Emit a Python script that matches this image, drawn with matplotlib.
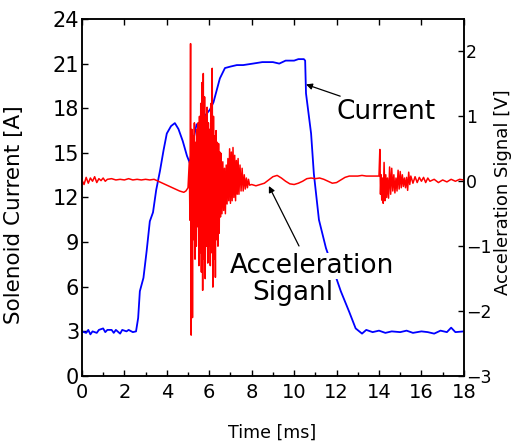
import matplotlib
matplotlib.use("Agg")
import matplotlib.pyplot as plt
from matplotlib.ticker import MultipleLocator

plt.rcParams['font.family'] = ['DejaVu Sans']

# ---- Data ----
t_current = [0.0, 0.2, 0.3, 0.4, 0.5, 0.7, 0.8, 1.0, 1.1, 1.2, 1.4, 1.5, 1.6, 1.8, 1.9,
             2.1, 2.2, 2.4, 2.55, 2.65, 2.73, 2.9, 3.05, 3.2, 3.35, 3.5, 3.68, 3.85, 4.0,
             4.2, 4.38, 4.55, 4.75, 4.95, 5.09, 5.2, 5.4, 5.6, 5.8, 6.03, 6.2, 6.35, 6.5,
             6.74, 7.0, 7.3, 7.6, 8.06, 8.5, 9.0, 9.3, 9.6, 10.0, 10.2, 10.46, 10.52, 10.56,
             10.8, 10.93, 11.17, 11.5, 12.2, 12.6, 12.9, 13.2, 13.4, 13.7, 14.0, 14.3, 14.6,
             15.0, 15.3, 15.6, 16.0, 16.3, 16.6, 16.9, 17.2, 17.4, 17.6, 18.0]
i_current = [3.0, 2.9, 3.1, 2.8, 3.0, 2.9, 3.1, 3.2, 2.95, 3.1, 3.1, 2.9, 3.1, 2.85, 3.1,
             3.0, 3.1, 2.95, 3.0, 3.9, 5.7, 6.6, 8.4, 10.4, 11.0, 12.5, 13.8, 15.2, 16.3,
             16.8, 17.0, 16.6, 15.8, 14.8, 14.3, 15.5, 16.9, 17.1, 17.5, 17.9, 18.4, 19.2, 20.0,
             20.7, 20.8, 20.9, 20.9, 21.0, 21.1, 21.1, 21.0, 21.2, 21.2, 21.3, 21.3, 21.2, 19.0,
             16.3, 13.6, 10.5, 8.6, 5.7, 4.3, 3.2, 2.85, 3.1, 2.95, 3.05, 2.9, 3.0,
             2.95, 3.05, 2.9, 3.0, 2.95, 2.85, 3.05, 2.95, 3.25, 2.95, 3.0]

t_accel = [0.0, 0.1, 0.2, 0.3, 0.4, 0.5, 0.6, 0.7, 0.8, 0.9, 1.0, 1.1, 1.2, 1.4, 1.6, 1.8,
           2.0, 2.2, 2.4, 2.6, 2.8, 3.0, 3.2, 3.4, 3.6, 3.8, 4.0, 4.2, 4.4, 4.6, 4.8, 4.9, 5.0,
           5.06, 5.09, 5.12, 5.15, 5.18, 5.21, 5.24, 5.27, 5.30, 5.33, 5.36, 5.39, 5.42, 5.45,
           5.48, 5.51, 5.54, 5.57, 5.60, 5.63, 5.66, 5.69, 5.72, 5.75, 5.78, 5.81, 5.84, 5.87,
           5.90, 5.93, 5.96, 5.99, 6.02, 6.05, 6.08, 6.11, 6.14, 6.17, 6.20, 6.23, 6.26, 6.29,
           6.32, 6.35, 6.38, 6.41, 6.44, 6.47, 6.50, 6.53, 6.56, 6.60, 6.64, 6.68, 6.72, 6.76,
           6.80, 6.84, 6.88, 6.92, 6.96, 7.00, 7.04, 7.08, 7.12, 7.16, 7.20, 7.24, 7.28, 7.32,
           7.36, 7.40, 7.45, 7.50, 7.55, 7.60, 7.65, 7.70, 7.75, 7.80, 7.85, 7.9,
           8.0, 8.2, 8.4, 8.6, 8.8, 9.0, 9.2, 9.4, 9.6, 9.8, 10.0, 10.2, 10.4, 10.6, 10.8, 11.0,
           11.2, 11.4, 11.6, 11.8, 12.0, 12.2, 12.4, 12.6, 12.8, 13.0, 13.2, 13.4, 13.6, 13.8,
           14.0, 14.04, 14.07, 14.10, 14.13, 14.17, 14.2, 14.24, 14.28, 14.32, 14.36, 14.40,
           14.45, 14.50, 14.55, 14.60, 14.65, 14.70, 14.75, 14.80, 14.85, 14.90, 14.95, 15.0,
           15.05, 15.1, 15.15, 15.2, 15.25, 15.3, 15.35, 15.4, 15.45, 15.5, 15.6, 15.7, 15.8,
           15.9, 16.0, 16.1, 16.2, 16.3, 16.4, 16.6, 16.8, 17.0, 17.2, 17.4, 17.6, 17.8, 18.0]
v_accel = [0.02, -0.05, 0.06, -0.03, 0.05, 0.0, 0.07, -0.02, 0.04, 0.01, 0.05, 0.0, 0.03, 0.04,
           0.02, 0.03, 0.02, 0.04, 0.02, 0.03, 0.02, 0.03, 0.02, 0.03, 0.0, -0.03, -0.06, -0.09,
           -0.12, -0.15, -0.17, -0.15, -0.1,
           0.3, -0.6, 2.12, -2.37, 0.8, -2.1, 0.7, -0.9, 0.9, -1.2, 0.6, -1.0, 0.8, -0.7,
           0.9, -1.3, 1.0, -1.1, 1.2, -1.4, 1.52, -1.68, 1.66, -1.2, 1.3, -1.5, 1.0, -1.0,
           1.14, -1.26, 0.9, -1.0, 0.8, -1.3, 1.2, -1.1, 1.74, -1.63, 1.0, -1.2, 0.7, -1.48,
           0.78, -0.9, 0.6, -1.0, 0.58, -0.8, 0.45, -0.55, 0.43, -0.5, 0.3, -0.45, 0.2, -0.5,
           0.25, -0.35, 0.35, -0.3, 0.5, -0.34, 0.45, -0.3, 0.52, -0.25, 0.4, -0.3, 0.32, -0.2,
           0.35, -0.2, 0.25, -0.15, 0.2, -0.15, 0.1, -0.12, 0.05, -0.1, 0.03, -0.06,
           -0.05, -0.07, -0.05, -0.03, 0.02, 0.07, 0.09, 0.05, 0.0, -0.04, -0.05, -0.03, 0.0,
           0.04, 0.05, 0.04, 0.05, 0.03, 0.0, -0.03, -0.02, 0.02, 0.06, 0.08, 0.08, 0.08, 0.09,
           0.08, 0.08, 0.08,
           0.08, 0.49, -0.2, 0.1, -0.29, 0.05, -0.34, 0.29, -0.3, 0.1, -0.25, 0.05,
           -0.26, 0.22, -0.2, 0.2, -0.15, 0.1, -0.18, 0.05, -0.15, 0.17, -0.12, 0.15,
           -0.1, 0.1, -0.08, 0.05, -0.1, 0.06, -0.14, 0.14, -0.05, 0.08, -0.03, 0.07, -0.02,
           0.06, 0.0, 0.06, -0.02, 0.05, 0.0, 0.03, -0.02, 0.02, -0.01, 0.03, 0.0, 0.03, 0.02]

x_ticks = list(range(0, 19, 2))
left_ticks = list(range(0, 25, 3))
right_ticks = [-3, -2, -1, 0, 1, 2]

# ---- Figure ----
fig = plt.figure(figsize=(5.12, 4.43), dpi=100)
ax1 = fig.add_axes([0.160, 0.1512, 0.746, 0.806])
ax2 = ax1.twinx()

ax1.plot(t_current, i_current, color='#0000ff', lw=1.3)
ax2.plot(t_accel, v_accel, color='#ff0000', lw=1.1)

ax1.set_xlim(0, 18)
ax1.set_ylim(0, 24)
ax2.set_ylim(-3, 2.5)
ax1.set_xticks(x_ticks)
ax1.xaxis.set_minor_locator(MultipleLocator(1))
ax1.set_yticks(left_ticks)
ax2.set_yticks(right_ticks)

ax1.tick_params(axis='x', which='major', direction='in', top=True, bottom=True,
                length=4, width=1, labelsize=14, pad=5)
ax1.tick_params(axis='x', which='minor', direction='in', top=False, bottom=True,
                length=3, width=1)
ax1.tick_params(axis='y', direction='in', left=True, right=False, length=4, width=1,
                labelsize=15, pad=2)
ax2.tick_params(axis='y', direction='in', right=True, length=4, width=1,
                labelsize=12.5, pad=1.5)

for ax in (ax1, ax2):
    for s in ax.spines.values():
        s.set_linewidth(1.1)

ax1.set_xlabel('Time [ms]', fontsize=12.5)
ax1.xaxis.set_label_coords(0.497, -0.135)
ax1.set_ylabel('Solenoid Current [A]', fontsize=15.5)
ax1.yaxis.set_label_coords(-0.152, 0.451)
ax2.set_ylabel('Acceleration Signal [V]', fontsize=13, rotation=90)
ax2.yaxis.set_label_coords(1.078, 0.515)

# ---- Annotations (in current-axis data coordinates) ----
ax1.annotate('Current', xy=(10.56, 19.6), xytext=(12.0, 17.75),
             fontsize=19, ha='left', va='center',
             arrowprops=dict(arrowstyle='-|>', color='black', lw=0.9,
                             mutation_scale=9, shrinkA=0, shrinkB=0))
ax1.annotate('', xy=(8.81, 12.77), xytext=(10.23, 8.74),
             xycoords=ax1.transData,
             arrowprops=dict(arrowstyle='-|>', color='black', lw=0.9,
                             mutation_scale=9, shrinkA=0, shrinkB=0))
ax1.text(10.84, 7.4, 'Acceleration', fontsize=19, ha='center', va='center',
         bbox=dict(facecolor='white', edgecolor='none', pad=0), zorder=5)
ax1.text(9.94, 5.6, 'Siganl', fontsize=19, ha='center', va='center',
         bbox=dict(facecolor='white', edgecolor='none', pad=0), zorder=5)

fig.savefig('out.png', dpi=100)
